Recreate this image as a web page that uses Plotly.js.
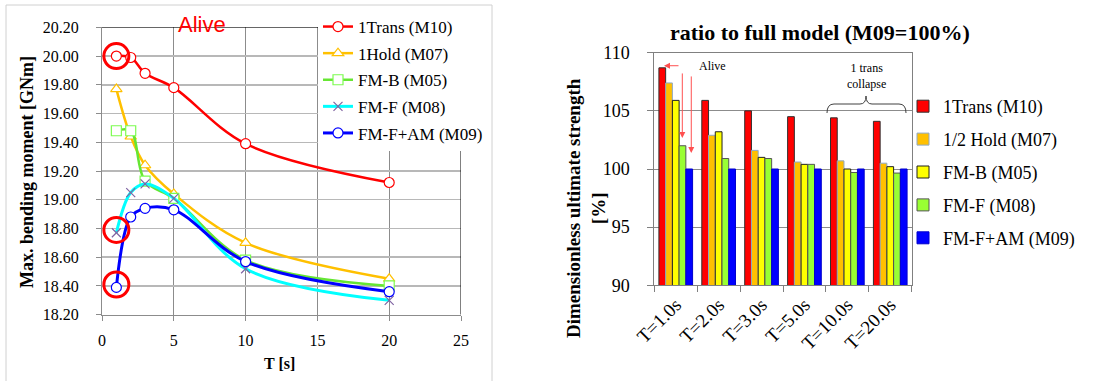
<!DOCTYPE html>
<html><head><meta charset="utf-8">
<script src="https://cdn.plot.ly/plotly-3.0.1.min.js"></script>
<style>html,body{margin:0;padding:0;background:#fff;} #chart{width:1118px;height:381px;}</style>
</head><body><div id="chart"></div>
<script>
// ---- Left chart data: max bending moment vs wave period ----
const periods = [1, 2, 3, 5, 10, 20];
const trans1_M10 = [20.00, 19.99, 19.88, 19.78, 19.39, 19.12];
const hold1_M07  = [19.77, 19.44, 19.24, 19.04, 18.70, 18.45];
const fmB_M05    = [19.48, 19.48, 19.13, 19.01, 18.58, 18.40];
const fmF_M08    = [18.77, 19.05, 19.11, 19.01, 18.52, 18.30];
const fmFAM_M09  = [18.39, 18.88, 18.94, 18.93, 18.57, 18.36];
const lineNames  = ['1Trans (M10)', '1Hold (M07)', 'FM-B (M05)', 'FM-F (M08)', 'FM-F+AM (M09)'];
const circledPoints = [[1, 20.00], [1, 18.79], [1, 18.41]];

// ---- Right chart data: ratio to full model (M09 = 100%) ----
const caseLabels = ['T=1.0s', 'T=2.0s', 'T=3.0s', 'T=5.0s', 'T=10.0s', 'T=20.0s'];
const ratio_M10 = [108.7, 105.9, 105.0, 104.5, 104.4, 104.1];
const ratio_M07 = [107.4, 102.9, 101.6, 100.6, 100.7, 100.5];
const ratio_M05 = [105.9, 103.2, 101.0, 100.4, 100.0, 100.2];
const ratio_M08 = [102.0, 100.9, 100.9, 100.4, 99.7, 99.65];
const ratio_M09 = [100.0, 100.0, 100.0, 100.0, 100.0, 100.0];
const barNames  = ['1Trans (M10)', '1/2 Hold (M07)', 'FM-B (M05)', 'FM-F (M08)', 'FM-F+AM (M09)'];

const W = 1118, H = 381;
const px = x => x / W;
const py = y => 1 - y / H;
const SERIF = 'Liberation Serif';

const lineSeries = [trans1_M10, hold1_M07, fmB_M05, fmF_M08, fmFAM_M09];
const lineColors = ['#FF0000', '#FFC000', '#66E633', '#00FFFF', '#0000FF'];
const markerSyms = ['circle', 'triangle-up', 'square', 'x-thin-open', 'circle'];
const markerLine = ['#FF0000', '#FFC000', '#7CFC50', '#8064A2', '#0000FF'];
const lineWidths = [2.5, 2.5, 2.5, 3, 3];

const traces = [];
lineSeries.forEach((ys, i) => {
  const isX = markerSyms[i] === 'x-thin-open';
  traces.push({
    type: 'scatter', mode: 'lines+markers', name: lineNames[i],
    x: periods, y: ys, xaxis: 'x', yaxis: 'y',
    legend: 'legend', legendgroup: 'L' + i,
    line: {color: lineColors[i], width: lineWidths[i], shape: 'spline', smoothing: 1},
    marker: isX
      ? {symbol: 'x-thin-open', size: 9, color: markerLine[i], line: {color: markerLine[i], width: 1.2}}
      : {symbol: markerSyms[i], size: 10, color: '#FFFFFF', line: {color: markerLine[i], width: 1.2}}
  });
});

const barSeries = [ratio_M10, ratio_M07, ratio_M05, ratio_M08, ratio_M09];
const barColors = ['#FF0000', '#FFC000', '#FFFF00', '#99FF33', '#0000FF'];
const barEdges  = ['#303030', '#8EA9C8', '#202020', '#555555', '#0000CC'];
barSeries.forEach((ys, i) => {
  traces.push({
    type: 'bar', name: barNames[i], x: caseLabels, y: ys,
    xaxis: 'x2', yaxis: 'y2', legend: 'legend2', legendgroup: 'B' + i,
    marker: {color: barColors[i], line: {color: barEdges[i], width: 1}}
  });
});

const shapes = [
  {type: 'rect', xref: 'paper', yref: 'paper', x0: px(6), x1: px(492), y0: -0.1, y1: py(5),
   line: {color: '#D0D0D0', width: 1}, layer: 'below'},
  {type: 'line', xref: 'x', yref: 'y', x0: 0, x1: 25, y0: 20.2, y1: 20.2, line: {color: '#000', width: 1}},
  {type: 'line', xref: 'x', yref: 'y', x0: 25, x1: 25, y0: 18.2, y1: 20.2, line: {color: '#000', width: 1}},
];
circledPoints.forEach(p => shapes.push({
  type: 'circle', xref: 'x', yref: 'y', xsizemode: 'pixel', ysizemode: 'pixel',
  xanchor: p[0], yanchor: p[1], x0: -12.5, x1: 12.5, y0: -12.5, y1: 12.5,
  line: {color: '#FF0000', width: 3}, layer: 'above'
}));
const P = (x, y) => px(x).toFixed(5) + ',' + py(y).toFixed(5);
shapes.push({
  type: 'path', xref: 'paper', yref: 'paper',
  path: 'M' + P(827, 113) + ' Q' + P(827, 104) + ' ' + P(834, 104) + ' L' + P(860, 104) +
        ' Q' + P(866, 104) + ' ' + P(866, 96) + ' Q' + P(866, 104) + ' ' + P(872, 104) +
        ' L' + P(899, 104) + ' Q' + P(906, 104) + ' ' + P(906, 113),
  line: {color: '#404040', width: 1}
});

const txt = (x, y, text, font, extra) => Object.assign({
  xref: 'paper', yref: 'paper', x: px(x), y: py(y), text: text, showarrow: false,
  xanchor: 'center', yanchor: 'middle', font: font
}, extra || {});

const annotations = [
  txt(202, 24, 'Alive', {family: 'Liberation Sans', size: 22, color: '#FF0000'}),
  txt(27, 172, '<b>Max. bending moment [GNm]</b>', {family: SERIF, size: 18, color: '#000'}, {textangle: -90}),
  txt(279, 363, '<b>T [s]</b>', {family: SERIF, size: 16, color: '#000'}),
  txt(820, 33, '<b>ratio to full model (M09=100%)</b>', {family: SERIF, size: 22, color: '#000'}),
  txt(586, 208, '<b>Dimensionless ultimate strength<br>[%]</b>', {family: SERIF, size: 19, color: '#000'}, {textangle: -90}),
  txt(712, 66, 'Alive', {family: SERIF, size: 12, color: '#000'}),
  txt(866, 76, '1 trans<br>collapse', {family: SERIF, size: 12, color: '#000'}),
  {xref: 'x2', yref: 'y2', x: -0.274, y: 108.88, ax: 16, ay: 0, text: '', showarrow: true,
   arrowcolor: '#FF5050', arrowwidth: 1, arrowhead: 2, arrowsize: 1.2},
  {xref: 'x2', yref: 'y2', x: 0.153, y: 102.67, ax: 0, ay: -66, text: '', showarrow: true,
   arrowcolor: '#FF5050', arrowwidth: 1, arrowhead: 2, arrowsize: 1.2},
  {xref: 'x2', yref: 'y2', x: 0.362, y: 101.38, ax: 0, ay: -78, text: '', showarrow: true,
   arrowcolor: '#FF5050', arrowwidth: 1, arrowhead: 2, arrowsize: 1.2}
];

const layout = {
  width: W, height: H, margin: {l: 0, r: 0, t: 0, b: 0},
  paper_bgcolor: '#FFFFFF', plot_bgcolor: '#FFFFFF',
  font: {family: SERIF, color: '#000'},
  barmode: 'group', bargap: 0.215, bargroupgap: 0,
  xaxis: {domain: [px(102), px(461)], anchor: 'y', range: [0, 25], tick0: 0, dtick: 5,
    showgrid: true, gridcolor: '#8C8C8C', gridwidth: 1, zeroline: false,
    showline: true, linecolor: '#8C8C8C', linewidth: 1,
    ticks: 'outside', ticklen: 5, tickcolor: '#8C8C8C', ticklabelstandoff: 6,
    tickfont: {family: SERIF, size: 16, color: '#000'}},
  yaxis: {domain: [py(314.7), py(27.3)], anchor: 'x', range: [18.2, 20.2], tick0: 18.2, dtick: 0.2,
    tickformat: '.2f', showgrid: true, gridcolor: '#B8B8B8', gridwidth: 1.5, zeroline: false,
    showline: true, linecolor: '#8C8C8C', linewidth: 1,
    ticks: 'outside', ticklen: 5, tickcolor: '#8C8C8C', ticklabelstandoff: 14,
    tickfont: {family: SERIF, size: 16, color: '#000'}},
  xaxis2: {domain: [px(654.3), px(911.7)], anchor: 'y2', type: 'category',
    showgrid: false, showline: true, mirror: true, linecolor: '#808080', linewidth: 1,
    ticks: 'outside', tickson: 'boundaries', ticklen: 6, tickcolor: '#808080', tickangle: -45,
    tickfont: {family: SERIF, size: 19, color: '#000'}},
  yaxis2: {domain: [py(285.3), py(52.7)], anchor: 'x2', range: [90, 110], tick0: 90, dtick: 5,
    showgrid: true, gridcolor: '#8C8C8C', gridwidth: 1, zeroline: false,
    showline: true, mirror: true, linecolor: '#808080', linewidth: 1,
    ticks: 'outside', ticklen: 6, tickcolor: '#808080', ticklabelstandoff: 14,
    tickfont: {family: SERIF, size: 18, color: '#000'}},
  legend: {x: px(318), y: py(9), xanchor: 'left', yanchor: 'top', bgcolor: '#FFFFFF',
    borderwidth: 0, tracegroupgap: 1.5, font: {family: SERIF, size: 17, color: '#000'}},
  legend2: {x: px(903), y: py(88), xanchor: 'left', yanchor: 'top', bgcolor: 'rgba(0,0,0,0)',
    borderwidth: 0, tracegroupgap: 6.5, font: {family: SERIF, size: 18, color: '#000'}},
  shapes: shapes, annotations: annotations, showlegend: true
};

Plotly.newPlot('chart', traces, layout, {displayModeBar: false, staticPlot: true});
</script>
</body></html>
